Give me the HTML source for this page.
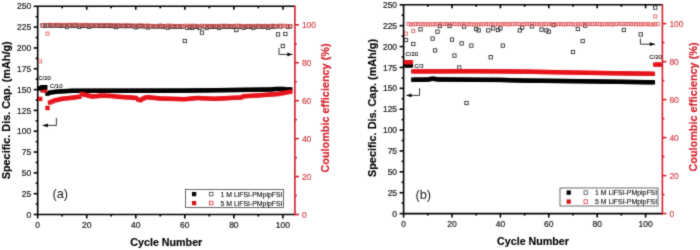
<!DOCTYPE html><html><head><meta charset="utf-8"><style>html,body{margin:0;padding:0;background:#fff;width:700px;height:250px;overflow:hidden}svg{display:block;will-change:transform}</style></head><body>
<svg width="700" height="250" viewBox="0 0 700 250">
<defs><filter id="sf" x="0" y="0" width="700" height="250" filterUnits="userSpaceOnUse" color-interpolation-filters="sRGB"><feConvolveMatrix order="3" kernelMatrix="1 2 1 2 16 2 1 2 1" edgeMode="duplicate"/></filter></defs><g filter="url(#sf)">
<rect width="700" height="250" fill="#fff"/>
<g stroke="#000" stroke-width="1.6" fill="none">
<path d="M37.7,6.3H294.9"/>
<path d="M37.7,6.3V214.5H294.9"/>
<path d="M33.7,214.5H37.7"/>
<path d="M35.7,204.09H37.7"/>
<path d="M33.7,193.68H37.7"/>
<path d="M35.7,183.27H37.7"/>
<path d="M33.7,172.86H37.7"/>
<path d="M35.7,162.45H37.7"/>
<path d="M33.7,152.04H37.7"/>
<path d="M35.7,141.63H37.7"/>
<path d="M33.7,131.22H37.7"/>
<path d="M35.7,120.81H37.7"/>
<path d="M33.7,110.4H37.7"/>
<path d="M35.7,99.99H37.7"/>
<path d="M33.7,89.58H37.7"/>
<path d="M35.7,79.17H37.7"/>
<path d="M33.7,68.76H37.7"/>
<path d="M35.7,58.35H37.7"/>
<path d="M33.7,47.94H37.7"/>
<path d="M35.7,37.53H37.7"/>
<path d="M33.7,27.12H37.7"/>
<path d="M35.7,16.71H37.7"/>
<path d="M33.7,6.3H37.7"/>
<path d="M37.7,214.5V218.5"/>
<path d="M62.22,214.5V216.5"/>
<path d="M62.22,6.3V8.3"/>
<path d="M86.74,214.5V218.5"/>
<path d="M86.74,6.3V9.8"/>
<path d="M111.26,214.5V216.5"/>
<path d="M111.26,6.3V8.3"/>
<path d="M135.78,214.5V218.5"/>
<path d="M135.78,6.3V9.8"/>
<path d="M160.3,214.5V216.5"/>
<path d="M160.3,6.3V8.3"/>
<path d="M184.82,214.5V218.5"/>
<path d="M184.82,6.3V9.8"/>
<path d="M209.34,214.5V216.5"/>
<path d="M209.34,6.3V8.3"/>
<path d="M233.86,214.5V218.5"/>
<path d="M233.86,6.3V9.8"/>
<path d="M258.38,214.5V216.5"/>
<path d="M258.38,6.3V8.3"/>
<path d="M282.9,214.5V218.5"/>
<path d="M282.9,6.3V9.8"/>
</g>
<g stroke="#d41e2a" stroke-width="1.6" fill="none">
<path d="M294.9,5.6V215.2"/>
<path d="M294.9,214.5H298.9"/>
<path d="M294.9,195.53H296.9"/>
<path d="M294.9,176.56H298.9"/>
<path d="M294.9,157.59H296.9"/>
<path d="M294.9,138.62H298.9"/>
<path d="M294.9,119.65H296.9"/>
<path d="M294.9,100.68H298.9"/>
<path d="M294.9,81.71H296.9"/>
<path d="M294.9,62.74H298.9"/>
<path d="M294.9,43.77H296.9"/>
<path d="M294.9,24.8H298.9"/>
</g>
<g font-family='"Liberation Sans", sans-serif' font-size="8.5" fill="#222" stroke="#222" stroke-width="0.22" text-anchor="end">
<text x="31.2" y="217.6">0</text>
<text x="31.2" y="196.78">25</text>
<text x="31.2" y="175.96">50</text>
<text x="31.2" y="155.14">75</text>
<text x="31.2" y="134.32">100</text>
<text x="31.2" y="113.5">125</text>
<text x="31.2" y="92.68">150</text>
<text x="31.2" y="71.86">175</text>
<text x="31.2" y="51.04">200</text>
<text x="31.2" y="30.22">225</text>
<text x="31.2" y="9.4">250</text>
</g>
<g font-family='"Liberation Sans", sans-serif' font-size="8.5" fill="#222" stroke="#222" stroke-width="0.22" text-anchor="middle">
<text x="37.7" y="228.2">0</text>
<text x="86.74" y="228.2">20</text>
<text x="135.78" y="228.2">40</text>
<text x="184.82" y="228.2">60</text>
<text x="233.86" y="228.2">80</text>
<text x="282.9" y="228.2">100</text>
</g>
<g font-family='"Liberation Sans", sans-serif' font-size="8.5" fill="#d23c46" stroke="#d23c46" stroke-width="0.15" text-anchor="start">
<text x="301.9" y="217.6">0</text>
<text x="301.9" y="179.66">20</text>
<text x="301.9" y="141.72">40</text>
<text x="301.9" y="103.78">60</text>
<text x="301.9" y="65.84">80</text>
<text x="301.9" y="27.9">100</text>
</g>
<text font-family='"Liberation Sans", sans-serif' font-weight="bold" font-size="10.85" fill="#000" stroke="#000" stroke-width="0.15" text-anchor="middle" transform="translate(10.2,110.3) rotate(-90)">Specific. Dis. Cap. (mAh/g)</text>
<text font-family='"Liberation Sans", sans-serif' font-weight="bold" font-size="10.87" fill="#d41e2a" stroke="#d41e2a" stroke-width="0.15" text-anchor="middle" transform="translate(328.7,108) rotate(-90)">Coulombic efficiency (%)</text>
<text font-family='"Liberation Sans", sans-serif' font-weight="bold" font-size="10.7" fill="#000" text-anchor="middle" x="166.3" y="246.2" stroke="#000" stroke-width="0.15">Cycle Number</text>
<text font-family='"Liberation Sans", sans-serif' font-size="12.8" fill="#222" x="52.4" y="198.1">(a)</text>
<rect x="40.93" y="23.77" width="3.35" height="3.35" fill="none" stroke="#2a2a2a" stroke-width="0.85"/>
<rect x="43.38" y="23.92" width="3.35" height="3.35" fill="none" stroke="#2a2a2a" stroke-width="0.85"/>
<rect x="45.83" y="23.76" width="3.35" height="3.35" fill="none" stroke="#2a2a2a" stroke-width="0.85"/>
<rect x="48.28" y="23.75" width="3.35" height="3.35" fill="none" stroke="#2a2a2a" stroke-width="0.85"/>
<rect x="50.74" y="23.88" width="3.35" height="3.35" fill="none" stroke="#2a2a2a" stroke-width="0.85"/>
<rect x="53.19" y="23.71" width="3.35" height="3.35" fill="none" stroke="#2a2a2a" stroke-width="0.85"/>
<rect x="55.64" y="23.75" width="3.35" height="3.35" fill="none" stroke="#2a2a2a" stroke-width="0.85"/>
<rect x="58.09" y="24.04" width="3.35" height="3.35" fill="none" stroke="#2a2a2a" stroke-width="0.85"/>
<rect x="60.54" y="23.88" width="3.35" height="3.35" fill="none" stroke="#2a2a2a" stroke-width="0.85"/>
<rect x="63" y="23.91" width="3.35" height="3.35" fill="none" stroke="#2a2a2a" stroke-width="0.85"/>
<rect x="67.9" y="23.73" width="3.35" height="3.35" fill="none" stroke="#2a2a2a" stroke-width="0.85"/>
<rect x="70.35" y="23.91" width="3.35" height="3.35" fill="none" stroke="#2a2a2a" stroke-width="0.85"/>
<rect x="72.81" y="23.99" width="3.35" height="3.35" fill="none" stroke="#2a2a2a" stroke-width="0.85"/>
<rect x="75.26" y="23.78" width="3.35" height="3.35" fill="none" stroke="#2a2a2a" stroke-width="0.85"/>
<rect x="80.16" y="24.06" width="3.35" height="3.35" fill="none" stroke="#2a2a2a" stroke-width="0.85"/>
<rect x="82.61" y="24.08" width="3.35" height="3.35" fill="none" stroke="#2a2a2a" stroke-width="0.85"/>
<rect x="85.07" y="23.87" width="3.35" height="3.35" fill="none" stroke="#2a2a2a" stroke-width="0.85"/>
<rect x="89.97" y="24.13" width="3.35" height="3.35" fill="none" stroke="#2a2a2a" stroke-width="0.85"/>
<rect x="92.42" y="24.09" width="3.35" height="3.35" fill="none" stroke="#2a2a2a" stroke-width="0.85"/>
<rect x="94.87" y="24.19" width="3.35" height="3.35" fill="none" stroke="#2a2a2a" stroke-width="0.85"/>
<rect x="97.33" y="24.08" width="3.35" height="3.35" fill="none" stroke="#2a2a2a" stroke-width="0.85"/>
<rect x="99.78" y="24.24" width="3.35" height="3.35" fill="none" stroke="#2a2a2a" stroke-width="0.85"/>
<rect x="102.23" y="24.27" width="3.35" height="3.35" fill="none" stroke="#2a2a2a" stroke-width="0.85"/>
<rect x="104.68" y="24" width="3.35" height="3.35" fill="none" stroke="#2a2a2a" stroke-width="0.85"/>
<rect x="107.13" y="24.03" width="3.35" height="3.35" fill="none" stroke="#2a2a2a" stroke-width="0.85"/>
<rect x="109.59" y="24.3" width="3.35" height="3.35" fill="none" stroke="#2a2a2a" stroke-width="0.85"/>
<rect x="112.04" y="24.44" width="3.35" height="3.35" fill="none" stroke="#2a2a2a" stroke-width="0.85"/>
<rect x="116.94" y="24.21" width="3.35" height="3.35" fill="none" stroke="#2a2a2a" stroke-width="0.85"/>
<rect x="119.39" y="24.31" width="3.35" height="3.35" fill="none" stroke="#2a2a2a" stroke-width="0.85"/>
<rect x="121.84" y="24.4" width="3.35" height="3.35" fill="none" stroke="#2a2a2a" stroke-width="0.85"/>
<rect x="124.3" y="24.31" width="3.35" height="3.35" fill="none" stroke="#2a2a2a" stroke-width="0.85"/>
<rect x="126.75" y="24.36" width="3.35" height="3.35" fill="none" stroke="#2a2a2a" stroke-width="0.85"/>
<rect x="129.2" y="24.36" width="3.35" height="3.35" fill="none" stroke="#2a2a2a" stroke-width="0.85"/>
<rect x="131.65" y="24.41" width="3.35" height="3.35" fill="none" stroke="#2a2a2a" stroke-width="0.85"/>
<rect x="136.56" y="24.56" width="3.35" height="3.35" fill="none" stroke="#2a2a2a" stroke-width="0.85"/>
<rect x="139.01" y="24.47" width="3.35" height="3.35" fill="none" stroke="#2a2a2a" stroke-width="0.85"/>
<rect x="141.46" y="24.52" width="3.35" height="3.35" fill="none" stroke="#2a2a2a" stroke-width="0.85"/>
<rect x="143.91" y="24.71" width="3.35" height="3.35" fill="none" stroke="#2a2a2a" stroke-width="0.85"/>
<rect x="148.82" y="24.46" width="3.35" height="3.35" fill="none" stroke="#2a2a2a" stroke-width="0.85"/>
<rect x="151.27" y="24.71" width="3.35" height="3.35" fill="none" stroke="#2a2a2a" stroke-width="0.85"/>
<rect x="153.72" y="24.8" width="3.35" height="3.35" fill="none" stroke="#2a2a2a" stroke-width="0.85"/>
<rect x="156.17" y="24.66" width="3.35" height="3.35" fill="none" stroke="#2a2a2a" stroke-width="0.85"/>
<rect x="158.63" y="24.65" width="3.35" height="3.35" fill="none" stroke="#2a2a2a" stroke-width="0.85"/>
<rect x="161.08" y="24.91" width="3.35" height="3.35" fill="none" stroke="#2a2a2a" stroke-width="0.85"/>
<rect x="163.53" y="24.71" width="3.35" height="3.35" fill="none" stroke="#2a2a2a" stroke-width="0.85"/>
<rect x="168.43" y="24.74" width="3.35" height="3.35" fill="none" stroke="#2a2a2a" stroke-width="0.85"/>
<rect x="170.89" y="24.87" width="3.35" height="3.35" fill="none" stroke="#2a2a2a" stroke-width="0.85"/>
<rect x="173.34" y="25" width="3.35" height="3.35" fill="none" stroke="#2a2a2a" stroke-width="0.85"/>
<rect x="175.79" y="24.79" width="3.35" height="3.35" fill="none" stroke="#2a2a2a" stroke-width="0.85"/>
<rect x="178.24" y="24.9" width="3.35" height="3.35" fill="none" stroke="#2a2a2a" stroke-width="0.85"/>
<rect x="180.69" y="24.93" width="3.35" height="3.35" fill="none" stroke="#2a2a2a" stroke-width="0.85"/>
<rect x="188.05" y="25.15" width="3.35" height="3.35" fill="none" stroke="#2a2a2a" stroke-width="0.85"/>
<rect x="192.95" y="24.98" width="3.35" height="3.35" fill="none" stroke="#2a2a2a" stroke-width="0.85"/>
<rect x="195.41" y="25.14" width="3.35" height="3.35" fill="none" stroke="#2a2a2a" stroke-width="0.85"/>
<rect x="202.76" y="24.86" width="3.35" height="3.35" fill="none" stroke="#2a2a2a" stroke-width="0.85"/>
<rect x="207.66" y="24.91" width="3.35" height="3.35" fill="none" stroke="#2a2a2a" stroke-width="0.85"/>
<rect x="210.12" y="25.03" width="3.35" height="3.35" fill="none" stroke="#2a2a2a" stroke-width="0.85"/>
<rect x="212.57" y="25.12" width="3.35" height="3.35" fill="none" stroke="#2a2a2a" stroke-width="0.85"/>
<rect x="215.02" y="24.94" width="3.35" height="3.35" fill="none" stroke="#2a2a2a" stroke-width="0.85"/>
<rect x="219.93" y="24.85" width="3.35" height="3.35" fill="none" stroke="#2a2a2a" stroke-width="0.85"/>
<rect x="222.38" y="24.8" width="3.35" height="3.35" fill="none" stroke="#2a2a2a" stroke-width="0.85"/>
<rect x="224.83" y="24.96" width="3.35" height="3.35" fill="none" stroke="#2a2a2a" stroke-width="0.85"/>
<rect x="227.28" y="24.82" width="3.35" height="3.35" fill="none" stroke="#2a2a2a" stroke-width="0.85"/>
<rect x="229.73" y="25.06" width="3.35" height="3.35" fill="none" stroke="#2a2a2a" stroke-width="0.85"/>
<rect x="232.19" y="25.07" width="3.35" height="3.35" fill="none" stroke="#2a2a2a" stroke-width="0.85"/>
<rect x="237.09" y="24.8" width="3.35" height="3.35" fill="none" stroke="#2a2a2a" stroke-width="0.85"/>
<rect x="239.54" y="24.83" width="3.35" height="3.35" fill="none" stroke="#2a2a2a" stroke-width="0.85"/>
<rect x="244.45" y="25.03" width="3.35" height="3.35" fill="none" stroke="#2a2a2a" stroke-width="0.85"/>
<rect x="246.9" y="24.96" width="3.35" height="3.35" fill="none" stroke="#2a2a2a" stroke-width="0.85"/>
<rect x="249.35" y="25.02" width="3.35" height="3.35" fill="none" stroke="#2a2a2a" stroke-width="0.85"/>
<rect x="254.25" y="24.83" width="3.35" height="3.35" fill="none" stroke="#2a2a2a" stroke-width="0.85"/>
<rect x="256.7" y="24.74" width="3.35" height="3.35" fill="none" stroke="#2a2a2a" stroke-width="0.85"/>
<rect x="259.16" y="24.8" width="3.35" height="3.35" fill="none" stroke="#2a2a2a" stroke-width="0.85"/>
<rect x="261.61" y="24.99" width="3.35" height="3.35" fill="none" stroke="#2a2a2a" stroke-width="0.85"/>
<rect x="264.06" y="24.78" width="3.35" height="3.35" fill="none" stroke="#2a2a2a" stroke-width="0.85"/>
<rect x="268.96" y="24.8" width="3.35" height="3.35" fill="none" stroke="#2a2a2a" stroke-width="0.85"/>
<rect x="271.42" y="24.82" width="3.35" height="3.35" fill="none" stroke="#2a2a2a" stroke-width="0.85"/>
<rect x="273.87" y="24.82" width="3.35" height="3.35" fill="none" stroke="#2a2a2a" stroke-width="0.85"/>
<rect x="278.77" y="24.81" width="3.35" height="3.35" fill="none" stroke="#2a2a2a" stroke-width="0.85"/>
<rect x="286.13" y="25" width="3.35" height="3.35" fill="none" stroke="#2a2a2a" stroke-width="0.85"/>
<rect x="288.58" y="24.69" width="3.35" height="3.35" fill="none" stroke="#2a2a2a" stroke-width="0.85"/>
<rect x="165.98" y="25.94" width="3.35" height="3.35" fill="none" stroke="#2a2a2a" stroke-width="0.85"/>
<rect x="183.15" y="39.32" width="3.35" height="3.35" fill="none" stroke="#2a2a2a" stroke-width="0.85"/>
<rect x="200.31" y="30.93" width="3.35" height="3.35" fill="none" stroke="#2a2a2a" stroke-width="0.85"/>
<rect x="234.64" y="28.32" width="3.35" height="3.35" fill="none" stroke="#2a2a2a" stroke-width="0.85"/>
<rect x="251.8" y="25.99" width="3.35" height="3.35" fill="none" stroke="#2a2a2a" stroke-width="0.85"/>
<rect x="276.32" y="32.72" width="3.35" height="3.35" fill="none" stroke="#2a2a2a" stroke-width="0.85"/>
<rect x="283.68" y="32.32" width="3.35" height="3.35" fill="none" stroke="#2a2a2a" stroke-width="0.85"/>
<rect x="281.22" y="44.32" width="3.35" height="3.35" fill="none" stroke="#2a2a2a" stroke-width="0.85"/>
<rect x="65.45" y="25" width="3.35" height="3.35" fill="none" stroke="#2a2a2a" stroke-width="0.85"/>
<rect x="77.71" y="25.09" width="3.35" height="3.35" fill="none" stroke="#2a2a2a" stroke-width="0.85"/>
<rect x="87.52" y="25.16" width="3.35" height="3.35" fill="none" stroke="#2a2a2a" stroke-width="0.85"/>
<rect x="114.49" y="25.38" width="3.35" height="3.35" fill="none" stroke="#2a2a2a" stroke-width="0.85"/>
<rect x="134.11" y="25.59" width="3.35" height="3.35" fill="none" stroke="#2a2a2a" stroke-width="0.85"/>
<rect x="146.37" y="25.73" width="3.35" height="3.35" fill="none" stroke="#2a2a2a" stroke-width="0.85"/>
<rect x="185.6" y="26.12" width="3.35" height="3.35" fill="none" stroke="#2a2a2a" stroke-width="0.85"/>
<rect x="190.5" y="26.11" width="3.35" height="3.35" fill="none" stroke="#2a2a2a" stroke-width="0.85"/>
<rect x="197.86" y="26.1" width="3.35" height="3.35" fill="none" stroke="#2a2a2a" stroke-width="0.85"/>
<rect x="205.21" y="26.08" width="3.35" height="3.35" fill="none" stroke="#2a2a2a" stroke-width="0.85"/>
<rect x="217.47" y="26.06" width="3.35" height="3.35" fill="none" stroke="#2a2a2a" stroke-width="0.85"/>
<rect x="241.99" y="26.01" width="3.35" height="3.35" fill="none" stroke="#2a2a2a" stroke-width="0.85"/>
<rect x="266.51" y="25.97" width="3.35" height="3.35" fill="none" stroke="#2a2a2a" stroke-width="0.85"/>
<rect x="38.63" y="59.88" width="3.05" height="3.05" fill="none" stroke="#dc4a4a" stroke-width="0.75"/>
<rect x="41.08" y="23.44" width="3.05" height="3.05" fill="none" stroke="#dc4a4a" stroke-width="0.75"/>
<rect x="43.53" y="23.42" width="3.05" height="3.05" fill="none" stroke="#dc4a4a" stroke-width="0.75"/>
<rect x="45.98" y="32.08" width="3.05" height="3.05" fill="none" stroke="#dc4a4a" stroke-width="0.75"/>
<rect x="48.44" y="23.19" width="3.05" height="3.05" fill="none" stroke="#dc4a4a" stroke-width="0.75"/>
<rect x="50.89" y="23.52" width="3.05" height="3.05" fill="none" stroke="#dc4a4a" stroke-width="0.75"/>
<rect x="53.34" y="23.52" width="3.05" height="3.05" fill="none" stroke="#dc4a4a" stroke-width="0.75"/>
<rect x="55.79" y="23.12" width="3.05" height="3.05" fill="none" stroke="#dc4a4a" stroke-width="0.75"/>
<rect x="58.24" y="23.45" width="3.05" height="3.05" fill="none" stroke="#dc4a4a" stroke-width="0.75"/>
<rect x="60.7" y="23.52" width="3.05" height="3.05" fill="none" stroke="#dc4a4a" stroke-width="0.75"/>
<rect x="63.15" y="23.43" width="3.05" height="3.05" fill="none" stroke="#dc4a4a" stroke-width="0.75"/>
<rect x="65.6" y="23.36" width="3.05" height="3.05" fill="none" stroke="#dc4a4a" stroke-width="0.75"/>
<rect x="68.05" y="23.24" width="3.05" height="3.05" fill="none" stroke="#dc4a4a" stroke-width="0.75"/>
<rect x="70.5" y="23.29" width="3.05" height="3.05" fill="none" stroke="#dc4a4a" stroke-width="0.75"/>
<rect x="72.95" y="23.24" width="3.05" height="3.05" fill="none" stroke="#dc4a4a" stroke-width="0.75"/>
<rect x="75.41" y="23.17" width="3.05" height="3.05" fill="none" stroke="#dc4a4a" stroke-width="0.75"/>
<rect x="77.86" y="23.5" width="3.05" height="3.05" fill="none" stroke="#dc4a4a" stroke-width="0.75"/>
<rect x="80.31" y="23.33" width="3.05" height="3.05" fill="none" stroke="#dc4a4a" stroke-width="0.75"/>
<rect x="82.76" y="23.66" width="3.05" height="3.05" fill="none" stroke="#dc4a4a" stroke-width="0.75"/>
<rect x="85.22" y="23.22" width="3.05" height="3.05" fill="none" stroke="#dc4a4a" stroke-width="0.75"/>
<rect x="87.67" y="23.76" width="3.05" height="3.05" fill="none" stroke="#dc4a4a" stroke-width="0.75"/>
<rect x="90.12" y="23.65" width="3.05" height="3.05" fill="none" stroke="#dc4a4a" stroke-width="0.75"/>
<rect x="92.57" y="23.8" width="3.05" height="3.05" fill="none" stroke="#dc4a4a" stroke-width="0.75"/>
<rect x="95.02" y="23.81" width="3.05" height="3.05" fill="none" stroke="#dc4a4a" stroke-width="0.75"/>
<rect x="97.47" y="23.83" width="3.05" height="3.05" fill="none" stroke="#dc4a4a" stroke-width="0.75"/>
<rect x="99.93" y="23.65" width="3.05" height="3.05" fill="none" stroke="#dc4a4a" stroke-width="0.75"/>
<rect x="102.38" y="23.33" width="3.05" height="3.05" fill="none" stroke="#dc4a4a" stroke-width="0.75"/>
<rect x="104.83" y="23.79" width="3.05" height="3.05" fill="none" stroke="#dc4a4a" stroke-width="0.75"/>
<rect x="107.28" y="23.46" width="3.05" height="3.05" fill="none" stroke="#dc4a4a" stroke-width="0.75"/>
<rect x="109.73" y="23.55" width="3.05" height="3.05" fill="none" stroke="#dc4a4a" stroke-width="0.75"/>
<rect x="112.19" y="23.8" width="3.05" height="3.05" fill="none" stroke="#dc4a4a" stroke-width="0.75"/>
<rect x="114.64" y="23.74" width="3.05" height="3.05" fill="none" stroke="#dc4a4a" stroke-width="0.75"/>
<rect x="117.09" y="23.7" width="3.05" height="3.05" fill="none" stroke="#dc4a4a" stroke-width="0.75"/>
<rect x="119.54" y="24.05" width="3.05" height="3.05" fill="none" stroke="#dc4a4a" stroke-width="0.75"/>
<rect x="121.99" y="23.88" width="3.05" height="3.05" fill="none" stroke="#dc4a4a" stroke-width="0.75"/>
<rect x="124.45" y="23.74" width="3.05" height="3.05" fill="none" stroke="#dc4a4a" stroke-width="0.75"/>
<rect x="126.9" y="23.71" width="3.05" height="3.05" fill="none" stroke="#dc4a4a" stroke-width="0.75"/>
<rect x="129.35" y="24.11" width="3.05" height="3.05" fill="none" stroke="#dc4a4a" stroke-width="0.75"/>
<rect x="131.8" y="23.9" width="3.05" height="3.05" fill="none" stroke="#dc4a4a" stroke-width="0.75"/>
<rect x="134.25" y="24.11" width="3.05" height="3.05" fill="none" stroke="#dc4a4a" stroke-width="0.75"/>
<rect x="136.71" y="23.88" width="3.05" height="3.05" fill="none" stroke="#dc4a4a" stroke-width="0.75"/>
<rect x="139.16" y="23.81" width="3.05" height="3.05" fill="none" stroke="#dc4a4a" stroke-width="0.75"/>
<rect x="141.61" y="24.04" width="3.05" height="3.05" fill="none" stroke="#dc4a4a" stroke-width="0.75"/>
<rect x="144.06" y="24.24" width="3.05" height="3.05" fill="none" stroke="#dc4a4a" stroke-width="0.75"/>
<rect x="146.52" y="23.88" width="3.05" height="3.05" fill="none" stroke="#dc4a4a" stroke-width="0.75"/>
<rect x="148.97" y="24.28" width="3.05" height="3.05" fill="none" stroke="#dc4a4a" stroke-width="0.75"/>
<rect x="151.42" y="24.38" width="3.05" height="3.05" fill="none" stroke="#dc4a4a" stroke-width="0.75"/>
<rect x="153.87" y="24.34" width="3.05" height="3.05" fill="none" stroke="#dc4a4a" stroke-width="0.75"/>
<rect x="156.32" y="24.38" width="3.05" height="3.05" fill="none" stroke="#dc4a4a" stroke-width="0.75"/>
<rect x="158.78" y="23.91" width="3.05" height="3.05" fill="none" stroke="#dc4a4a" stroke-width="0.75"/>
<rect x="161.23" y="24.31" width="3.05" height="3.05" fill="none" stroke="#dc4a4a" stroke-width="0.75"/>
<rect x="163.68" y="24.48" width="3.05" height="3.05" fill="none" stroke="#dc4a4a" stroke-width="0.75"/>
<rect x="166.13" y="24.02" width="3.05" height="3.05" fill="none" stroke="#dc4a4a" stroke-width="0.75"/>
<rect x="168.58" y="24.18" width="3.05" height="3.05" fill="none" stroke="#dc4a4a" stroke-width="0.75"/>
<rect x="171.03" y="24.2" width="3.05" height="3.05" fill="none" stroke="#dc4a4a" stroke-width="0.75"/>
<rect x="173.49" y="24.38" width="3.05" height="3.05" fill="none" stroke="#dc4a4a" stroke-width="0.75"/>
<rect x="175.94" y="24.35" width="3.05" height="3.05" fill="none" stroke="#dc4a4a" stroke-width="0.75"/>
<rect x="178.39" y="24.41" width="3.05" height="3.05" fill="none" stroke="#dc4a4a" stroke-width="0.75"/>
<rect x="180.84" y="24.61" width="3.05" height="3.05" fill="none" stroke="#dc4a4a" stroke-width="0.75"/>
<rect x="183.29" y="24.18" width="3.05" height="3.05" fill="none" stroke="#dc4a4a" stroke-width="0.75"/>
<rect x="185.75" y="24.2" width="3.05" height="3.05" fill="none" stroke="#dc4a4a" stroke-width="0.75"/>
<rect x="188.2" y="24.24" width="3.05" height="3.05" fill="none" stroke="#dc4a4a" stroke-width="0.75"/>
<rect x="190.65" y="24.24" width="3.05" height="3.05" fill="none" stroke="#dc4a4a" stroke-width="0.75"/>
<rect x="193.1" y="24.2" width="3.05" height="3.05" fill="none" stroke="#dc4a4a" stroke-width="0.75"/>
<rect x="195.55" y="24.74" width="3.05" height="3.05" fill="none" stroke="#dc4a4a" stroke-width="0.75"/>
<rect x="198.01" y="24.66" width="3.05" height="3.05" fill="none" stroke="#dc4a4a" stroke-width="0.75"/>
<rect x="200.46" y="24.19" width="3.05" height="3.05" fill="none" stroke="#dc4a4a" stroke-width="0.75"/>
<rect x="202.91" y="24.44" width="3.05" height="3.05" fill="none" stroke="#dc4a4a" stroke-width="0.75"/>
<rect x="205.36" y="24.32" width="3.05" height="3.05" fill="none" stroke="#dc4a4a" stroke-width="0.75"/>
<rect x="207.81" y="24.32" width="3.05" height="3.05" fill="none" stroke="#dc4a4a" stroke-width="0.75"/>
<rect x="210.27" y="24.33" width="3.05" height="3.05" fill="none" stroke="#dc4a4a" stroke-width="0.75"/>
<rect x="212.72" y="24.51" width="3.05" height="3.05" fill="none" stroke="#dc4a4a" stroke-width="0.75"/>
<rect x="215.17" y="24.47" width="3.05" height="3.05" fill="none" stroke="#dc4a4a" stroke-width="0.75"/>
<rect x="217.62" y="24.33" width="3.05" height="3.05" fill="none" stroke="#dc4a4a" stroke-width="0.75"/>
<rect x="220.08" y="24.22" width="3.05" height="3.05" fill="none" stroke="#dc4a4a" stroke-width="0.75"/>
<rect x="222.53" y="24.3" width="3.05" height="3.05" fill="none" stroke="#dc4a4a" stroke-width="0.75"/>
<rect x="224.98" y="24.17" width="3.05" height="3.05" fill="none" stroke="#dc4a4a" stroke-width="0.75"/>
<rect x="227.43" y="24.42" width="3.05" height="3.05" fill="none" stroke="#dc4a4a" stroke-width="0.75"/>
<rect x="229.88" y="24.52" width="3.05" height="3.05" fill="none" stroke="#dc4a4a" stroke-width="0.75"/>
<rect x="232.34" y="24.31" width="3.05" height="3.05" fill="none" stroke="#dc4a4a" stroke-width="0.75"/>
<rect x="234.79" y="24.13" width="3.05" height="3.05" fill="none" stroke="#dc4a4a" stroke-width="0.75"/>
<rect x="237.24" y="24.18" width="3.05" height="3.05" fill="none" stroke="#dc4a4a" stroke-width="0.75"/>
<rect x="239.69" y="24.29" width="3.05" height="3.05" fill="none" stroke="#dc4a4a" stroke-width="0.75"/>
<rect x="242.14" y="24.43" width="3.05" height="3.05" fill="none" stroke="#dc4a4a" stroke-width="0.75"/>
<rect x="244.59" y="24.53" width="3.05" height="3.05" fill="none" stroke="#dc4a4a" stroke-width="0.75"/>
<rect x="247.05" y="24.28" width="3.05" height="3.05" fill="none" stroke="#dc4a4a" stroke-width="0.75"/>
<rect x="249.5" y="24.53" width="3.05" height="3.05" fill="none" stroke="#dc4a4a" stroke-width="0.75"/>
<rect x="251.95" y="24.42" width="3.05" height="3.05" fill="none" stroke="#dc4a4a" stroke-width="0.75"/>
<rect x="254.4" y="24.3" width="3.05" height="3.05" fill="none" stroke="#dc4a4a" stroke-width="0.75"/>
<rect x="256.86" y="24.26" width="3.05" height="3.05" fill="none" stroke="#dc4a4a" stroke-width="0.75"/>
<rect x="259.31" y="24.33" width="3.05" height="3.05" fill="none" stroke="#dc4a4a" stroke-width="0.75"/>
<rect x="261.76" y="24.45" width="3.05" height="3.05" fill="none" stroke="#dc4a4a" stroke-width="0.75"/>
<rect x="264.21" y="24.27" width="3.05" height="3.05" fill="none" stroke="#dc4a4a" stroke-width="0.75"/>
<rect x="266.66" y="24.43" width="3.05" height="3.05" fill="none" stroke="#dc4a4a" stroke-width="0.75"/>
<rect x="269.12" y="24.29" width="3.05" height="3.05" fill="none" stroke="#dc4a4a" stroke-width="0.75"/>
<rect x="271.57" y="24.15" width="3.05" height="3.05" fill="none" stroke="#dc4a4a" stroke-width="0.75"/>
<rect x="274.02" y="24.32" width="3.05" height="3.05" fill="none" stroke="#dc4a4a" stroke-width="0.75"/>
<rect x="276.47" y="24.42" width="3.05" height="3.05" fill="none" stroke="#dc4a4a" stroke-width="0.75"/>
<rect x="278.92" y="24.04" width="3.05" height="3.05" fill="none" stroke="#dc4a4a" stroke-width="0.75"/>
<rect x="281.38" y="24.24" width="3.05" height="3.05" fill="none" stroke="#dc4a4a" stroke-width="0.75"/>
<rect x="283.83" y="24.24" width="3.05" height="3.05" fill="none" stroke="#dc4a4a" stroke-width="0.75"/>
<rect x="286.28" y="24.51" width="3.05" height="3.05" fill="none" stroke="#dc4a4a" stroke-width="0.75"/>
<rect x="288.73" y="24.54" width="3.05" height="3.05" fill="none" stroke="#dc4a4a" stroke-width="0.75"/>
<rect x="37.95" y="86" width="4.4" height="4.4" fill="#000"/>
<rect x="40.4" y="85" width="4.4" height="4.4" fill="#000"/>
<rect x="42.86" y="85" width="4.4" height="4.4" fill="#000"/>
<rect x="45.31" y="91.4" width="4.4" height="4.4" fill="#000"/>
<rect x="47.76" y="90.4" width="4.4" height="4.4" fill="#000"/>
<rect x="50.21" y="90" width="4.4" height="4.4" fill="#000"/>
<rect x="52.66" y="89.7" width="4.4" height="4.4" fill="#000"/>
<rect x="55.12" y="89.4" width="4.4" height="4.4" fill="#000"/>
<rect x="57.57" y="89.25" width="4.4" height="4.4" fill="#000"/>
<rect x="60.02" y="89.1" width="4.4" height="4.4" fill="#000"/>
<rect x="62.47" y="88.97" width="4.4" height="4.4" fill="#000"/>
<rect x="64.92" y="88.85" width="4.4" height="4.4" fill="#000"/>
<rect x="67.38" y="88.72" width="4.4" height="4.4" fill="#000"/>
<rect x="69.83" y="88.6" width="4.4" height="4.4" fill="#000"/>
<rect x="72.28" y="88.59" width="4.4" height="4.4" fill="#000"/>
<rect x="74.73" y="88.58" width="4.4" height="4.4" fill="#000"/>
<rect x="77.18" y="88.58" width="4.4" height="4.4" fill="#000"/>
<rect x="79.64" y="88.57" width="4.4" height="4.4" fill="#000"/>
<rect x="82.09" y="88.56" width="4.4" height="4.4" fill="#000"/>
<rect x="84.54" y="88.55" width="4.4" height="4.4" fill="#000"/>
<rect x="86.99" y="88.55" width="4.4" height="4.4" fill="#000"/>
<rect x="89.44" y="88.55" width="4.4" height="4.4" fill="#000"/>
<rect x="91.9" y="88.54" width="4.4" height="4.4" fill="#000"/>
<rect x="94.35" y="88.54" width="4.4" height="4.4" fill="#000"/>
<rect x="96.8" y="88.54" width="4.4" height="4.4" fill="#000"/>
<rect x="99.25" y="88.53" width="4.4" height="4.4" fill="#000"/>
<rect x="101.7" y="88.53" width="4.4" height="4.4" fill="#000"/>
<rect x="104.16" y="88.53" width="4.4" height="4.4" fill="#000"/>
<rect x="106.61" y="88.53" width="4.4" height="4.4" fill="#000"/>
<rect x="109.06" y="88.52" width="4.4" height="4.4" fill="#000"/>
<rect x="111.51" y="88.52" width="4.4" height="4.4" fill="#000"/>
<rect x="113.96" y="88.52" width="4.4" height="4.4" fill="#000"/>
<rect x="116.42" y="88.52" width="4.4" height="4.4" fill="#000"/>
<rect x="118.87" y="88.52" width="4.4" height="4.4" fill="#000"/>
<rect x="121.32" y="88.51" width="4.4" height="4.4" fill="#000"/>
<rect x="123.77" y="88.51" width="4.4" height="4.4" fill="#000"/>
<rect x="126.22" y="88.51" width="4.4" height="4.4" fill="#000"/>
<rect x="128.68" y="88.5" width="4.4" height="4.4" fill="#000"/>
<rect x="131.13" y="88.5" width="4.4" height="4.4" fill="#000"/>
<rect x="133.58" y="88.5" width="4.4" height="4.4" fill="#000"/>
<rect x="136.03" y="88.5" width="4.4" height="4.4" fill="#000"/>
<rect x="138.48" y="88.49" width="4.4" height="4.4" fill="#000"/>
<rect x="140.94" y="88.48" width="4.4" height="4.4" fill="#000"/>
<rect x="143.39" y="88.48" width="4.4" height="4.4" fill="#000"/>
<rect x="145.84" y="88.47" width="4.4" height="4.4" fill="#000"/>
<rect x="148.29" y="88.47" width="4.4" height="4.4" fill="#000"/>
<rect x="150.74" y="88.47" width="4.4" height="4.4" fill="#000"/>
<rect x="153.2" y="88.46" width="4.4" height="4.4" fill="#000"/>
<rect x="155.65" y="88.45" width="4.4" height="4.4" fill="#000"/>
<rect x="158.1" y="88.45" width="4.4" height="4.4" fill="#000"/>
<rect x="160.55" y="88.44" width="4.4" height="4.4" fill="#000"/>
<rect x="163" y="88.44" width="4.4" height="4.4" fill="#000"/>
<rect x="165.46" y="88.43" width="4.4" height="4.4" fill="#000"/>
<rect x="167.91" y="88.43" width="4.4" height="4.4" fill="#000"/>
<rect x="170.36" y="88.42" width="4.4" height="4.4" fill="#000"/>
<rect x="172.81" y="88.42" width="4.4" height="4.4" fill="#000"/>
<rect x="175.26" y="88.41" width="4.4" height="4.4" fill="#000"/>
<rect x="177.72" y="88.41" width="4.4" height="4.4" fill="#000"/>
<rect x="180.17" y="88.4" width="4.4" height="4.4" fill="#000"/>
<rect x="182.62" y="88.4" width="4.4" height="4.4" fill="#000"/>
<rect x="185.07" y="88.37" width="4.4" height="4.4" fill="#000"/>
<rect x="187.52" y="88.34" width="4.4" height="4.4" fill="#000"/>
<rect x="189.98" y="88.31" width="4.4" height="4.4" fill="#000"/>
<rect x="192.43" y="88.28" width="4.4" height="4.4" fill="#000"/>
<rect x="194.88" y="88.25" width="4.4" height="4.4" fill="#000"/>
<rect x="197.33" y="88.22" width="4.4" height="4.4" fill="#000"/>
<rect x="199.78" y="88.19" width="4.4" height="4.4" fill="#000"/>
<rect x="202.24" y="88.16" width="4.4" height="4.4" fill="#000"/>
<rect x="204.69" y="88.13" width="4.4" height="4.4" fill="#000"/>
<rect x="207.14" y="88.1" width="4.4" height="4.4" fill="#000"/>
<rect x="209.59" y="88.07" width="4.4" height="4.4" fill="#000"/>
<rect x="212.04" y="88.04" width="4.4" height="4.4" fill="#000"/>
<rect x="214.5" y="88.01" width="4.4" height="4.4" fill="#000"/>
<rect x="216.95" y="87.98" width="4.4" height="4.4" fill="#000"/>
<rect x="219.4" y="87.95" width="4.4" height="4.4" fill="#000"/>
<rect x="221.85" y="87.92" width="4.4" height="4.4" fill="#000"/>
<rect x="224.3" y="87.89" width="4.4" height="4.4" fill="#000"/>
<rect x="226.76" y="87.86" width="4.4" height="4.4" fill="#000"/>
<rect x="229.21" y="87.83" width="4.4" height="4.4" fill="#000"/>
<rect x="231.66" y="87.8" width="4.4" height="4.4" fill="#000"/>
<rect x="234.11" y="87.77" width="4.4" height="4.4" fill="#000"/>
<rect x="236.56" y="87.73" width="4.4" height="4.4" fill="#000"/>
<rect x="239.02" y="87.7" width="4.4" height="4.4" fill="#000"/>
<rect x="241.47" y="87.67" width="4.4" height="4.4" fill="#000"/>
<rect x="243.92" y="87.63" width="4.4" height="4.4" fill="#000"/>
<rect x="246.37" y="87.6" width="4.4" height="4.4" fill="#000"/>
<rect x="248.82" y="87.57" width="4.4" height="4.4" fill="#000"/>
<rect x="251.28" y="87.53" width="4.4" height="4.4" fill="#000"/>
<rect x="253.73" y="87.5" width="4.4" height="4.4" fill="#000"/>
<rect x="256.18" y="87.47" width="4.4" height="4.4" fill="#000"/>
<rect x="258.63" y="87.43" width="4.4" height="4.4" fill="#000"/>
<rect x="261.08" y="87.4" width="4.4" height="4.4" fill="#000"/>
<rect x="263.54" y="87.37" width="4.4" height="4.4" fill="#000"/>
<rect x="265.99" y="87.33" width="4.4" height="4.4" fill="#000"/>
<rect x="268.44" y="87.3" width="4.4" height="4.4" fill="#000"/>
<rect x="270.89" y="87.05" width="4.4" height="4.4" fill="#000"/>
<rect x="273.34" y="86.8" width="4.4" height="4.4" fill="#000"/>
<rect x="275.8" y="86.8" width="4.4" height="4.4" fill="#000"/>
<rect x="278.25" y="86.8" width="4.4" height="4.4" fill="#000"/>
<rect x="280.7" y="86.8" width="4.4" height="4.4" fill="#000"/>
<rect x="283.15" y="87.2" width="4.4" height="4.4" fill="#000"/>
<rect x="285.6" y="87.2" width="4.4" height="4.4" fill="#000"/>
<rect x="288.06" y="87.2" width="4.4" height="4.4" fill="#000"/>
<rect x="37.95" y="96.7" width="4.4" height="4.4" fill="#e8141c"/>
<rect x="45.31" y="105.8" width="4.4" height="4.4" fill="#e8141c"/>
<rect x="47.76" y="100.3" width="4.4" height="4.4" fill="#e8141c"/>
<rect x="50.21" y="99.25" width="4.4" height="4.4" fill="#e8141c"/>
<rect x="52.66" y="98.2" width="4.4" height="4.4" fill="#e8141c"/>
<rect x="55.12" y="97.67" width="4.4" height="4.4" fill="#e8141c"/>
<rect x="57.57" y="97.13" width="4.4" height="4.4" fill="#e8141c"/>
<rect x="60.02" y="96.6" width="4.4" height="4.4" fill="#e8141c"/>
<rect x="62.47" y="96.34" width="4.4" height="4.4" fill="#e8141c"/>
<rect x="64.92" y="96.08" width="4.4" height="4.4" fill="#e8141c"/>
<rect x="67.38" y="95.81" width="4.4" height="4.4" fill="#e8141c"/>
<rect x="69.83" y="95.55" width="4.4" height="4.4" fill="#e8141c"/>
<rect x="72.28" y="95.22" width="4.4" height="4.4" fill="#e8141c"/>
<rect x="74.73" y="94.88" width="4.4" height="4.4" fill="#e8141c"/>
<rect x="77.18" y="94.55" width="4.4" height="4.4" fill="#e8141c"/>
<rect x="79.64" y="91.8" width="4.4" height="4.4" fill="#e8141c"/>
<rect x="82.09" y="92.4" width="4.4" height="4.4" fill="#e8141c"/>
<rect x="84.54" y="93" width="4.4" height="4.4" fill="#e8141c"/>
<rect x="86.99" y="93.65" width="4.4" height="4.4" fill="#e8141c"/>
<rect x="89.44" y="94.3" width="4.4" height="4.4" fill="#e8141c"/>
<rect x="91.9" y="94.15" width="4.4" height="4.4" fill="#e8141c"/>
<rect x="94.35" y="94" width="4.4" height="4.4" fill="#e8141c"/>
<rect x="96.8" y="93.7" width="4.4" height="4.4" fill="#e8141c"/>
<rect x="99.25" y="93.4" width="4.4" height="4.4" fill="#e8141c"/>
<rect x="101.7" y="93.5" width="4.4" height="4.4" fill="#e8141c"/>
<rect x="104.16" y="93.6" width="4.4" height="4.4" fill="#e8141c"/>
<rect x="106.61" y="93.7" width="4.4" height="4.4" fill="#e8141c"/>
<rect x="109.06" y="93.8" width="4.4" height="4.4" fill="#e8141c"/>
<rect x="111.51" y="94.05" width="4.4" height="4.4" fill="#e8141c"/>
<rect x="113.96" y="94.3" width="4.4" height="4.4" fill="#e8141c"/>
<rect x="116.42" y="94.55" width="4.4" height="4.4" fill="#e8141c"/>
<rect x="118.87" y="94.8" width="4.4" height="4.4" fill="#e8141c"/>
<rect x="121.32" y="94.92" width="4.4" height="4.4" fill="#e8141c"/>
<rect x="123.77" y="95.05" width="4.4" height="4.4" fill="#e8141c"/>
<rect x="126.22" y="95.17" width="4.4" height="4.4" fill="#e8141c"/>
<rect x="128.68" y="95.3" width="4.4" height="4.4" fill="#e8141c"/>
<rect x="131.13" y="95.55" width="4.4" height="4.4" fill="#e8141c"/>
<rect x="133.58" y="95.8" width="4.4" height="4.4" fill="#e8141c"/>
<rect x="136.03" y="97.3" width="4.4" height="4.4" fill="#e8141c"/>
<rect x="138.48" y="98" width="4.4" height="4.4" fill="#e8141c"/>
<rect x="140.94" y="96.4" width="4.4" height="4.4" fill="#e8141c"/>
<rect x="143.39" y="95.33" width="4.4" height="4.4" fill="#e8141c"/>
<rect x="145.84" y="94.97" width="4.4" height="4.4" fill="#e8141c"/>
<rect x="148.29" y="95.3" width="4.4" height="4.4" fill="#e8141c"/>
<rect x="150.74" y="95.55" width="4.4" height="4.4" fill="#e8141c"/>
<rect x="153.2" y="95.8" width="4.4" height="4.4" fill="#e8141c"/>
<rect x="155.65" y="96.05" width="4.4" height="4.4" fill="#e8141c"/>
<rect x="158.1" y="96.3" width="4.4" height="4.4" fill="#e8141c"/>
<rect x="160.55" y="96.38" width="4.4" height="4.4" fill="#e8141c"/>
<rect x="163" y="96.45" width="4.4" height="4.4" fill="#e8141c"/>
<rect x="165.46" y="96.52" width="4.4" height="4.4" fill="#e8141c"/>
<rect x="167.91" y="96.6" width="4.4" height="4.4" fill="#e8141c"/>
<rect x="170.36" y="96.67" width="4.4" height="4.4" fill="#e8141c"/>
<rect x="172.81" y="96.73" width="4.4" height="4.4" fill="#e8141c"/>
<rect x="175.26" y="96.8" width="4.4" height="4.4" fill="#e8141c"/>
<rect x="177.72" y="96.87" width="4.4" height="4.4" fill="#e8141c"/>
<rect x="180.17" y="96.93" width="4.4" height="4.4" fill="#e8141c"/>
<rect x="182.62" y="97" width="4.4" height="4.4" fill="#e8141c"/>
<rect x="185.07" y="96.76" width="4.4" height="4.4" fill="#e8141c"/>
<rect x="187.52" y="96.52" width="4.4" height="4.4" fill="#e8141c"/>
<rect x="189.98" y="96.28" width="4.4" height="4.4" fill="#e8141c"/>
<rect x="192.43" y="96.04" width="4.4" height="4.4" fill="#e8141c"/>
<rect x="194.88" y="95.8" width="4.4" height="4.4" fill="#e8141c"/>
<rect x="197.33" y="95.91" width="4.4" height="4.4" fill="#e8141c"/>
<rect x="199.78" y="96.03" width="4.4" height="4.4" fill="#e8141c"/>
<rect x="202.24" y="96.14" width="4.4" height="4.4" fill="#e8141c"/>
<rect x="204.69" y="96.26" width="4.4" height="4.4" fill="#e8141c"/>
<rect x="207.14" y="96.37" width="4.4" height="4.4" fill="#e8141c"/>
<rect x="209.59" y="96.49" width="4.4" height="4.4" fill="#e8141c"/>
<rect x="212.04" y="96.6" width="4.4" height="4.4" fill="#e8141c"/>
<rect x="214.5" y="96.47" width="4.4" height="4.4" fill="#e8141c"/>
<rect x="216.95" y="96.35" width="4.4" height="4.4" fill="#e8141c"/>
<rect x="219.4" y="96.22" width="4.4" height="4.4" fill="#e8141c"/>
<rect x="221.85" y="96.1" width="4.4" height="4.4" fill="#e8141c"/>
<rect x="224.3" y="95.97" width="4.4" height="4.4" fill="#e8141c"/>
<rect x="226.76" y="95.85" width="4.4" height="4.4" fill="#e8141c"/>
<rect x="229.21" y="95.72" width="4.4" height="4.4" fill="#e8141c"/>
<rect x="231.66" y="95.6" width="4.4" height="4.4" fill="#e8141c"/>
<rect x="234.11" y="95.5" width="4.4" height="4.4" fill="#e8141c"/>
<rect x="236.56" y="95.4" width="4.4" height="4.4" fill="#e8141c"/>
<rect x="239.02" y="95.3" width="4.4" height="4.4" fill="#e8141c"/>
<rect x="241.47" y="94.04" width="4.4" height="4.4" fill="#e8141c"/>
<rect x="243.92" y="93.9" width="4.4" height="4.4" fill="#e8141c"/>
<rect x="246.37" y="93.76" width="4.4" height="4.4" fill="#e8141c"/>
<rect x="248.82" y="93.62" width="4.4" height="4.4" fill="#e8141c"/>
<rect x="251.28" y="93.48" width="4.4" height="4.4" fill="#e8141c"/>
<rect x="253.73" y="93.34" width="4.4" height="4.4" fill="#e8141c"/>
<rect x="256.18" y="93.2" width="4.4" height="4.4" fill="#e8141c"/>
<rect x="258.63" y="93.03" width="4.4" height="4.4" fill="#e8141c"/>
<rect x="261.08" y="92.85" width="4.4" height="4.4" fill="#e8141c"/>
<rect x="263.54" y="92.67" width="4.4" height="4.4" fill="#e8141c"/>
<rect x="265.99" y="92.5" width="4.4" height="4.4" fill="#e8141c"/>
<rect x="268.44" y="92.33" width="4.4" height="4.4" fill="#e8141c"/>
<rect x="270.89" y="92.15" width="4.4" height="4.4" fill="#e8141c"/>
<rect x="273.34" y="91.97" width="4.4" height="4.4" fill="#e8141c"/>
<rect x="275.8" y="91.8" width="4.4" height="4.4" fill="#e8141c"/>
<rect x="278.25" y="91.35" width="4.4" height="4.4" fill="#e8141c"/>
<rect x="280.7" y="90.9" width="4.4" height="4.4" fill="#e8141c"/>
<rect x="283.15" y="90.45" width="4.4" height="4.4" fill="#e8141c"/>
<rect x="285.6" y="90" width="4.4" height="4.4" fill="#e8141c"/>
<rect x="288.06" y="89.6" width="4.4" height="4.4" fill="#e8141c"/>
<rect x="40.4" y="88.2" width="4.4" height="4.4" fill="#e8141c"/>
<rect x="42.86" y="88.2" width="4.4" height="4.4" fill="#e8141c"/>
<rect x="37.95" y="86" width="4.4" height="4.4" fill="#000"/>
<rect x="40.4" y="85" width="4.4" height="4.4" fill="#000"/>
<rect x="42.86" y="85" width="4.4" height="4.4" fill="#000"/>
<text font-family='"Liberation Sans", sans-serif' font-size="6" fill="#000" stroke="#000" stroke-width="0.1" x="38.2" y="79.5">C/20</text>
<text font-family='"Liberation Sans", sans-serif' font-size="6" fill="#000" stroke="#000" stroke-width="0.1" x="49.8" y="88">C/10</text>
<path d="M56.4,117.8 L56.4,125.4 L42.6,125.4" stroke="#000" stroke-width="0.8" fill="none"/>
<path d="M42.6,125.4 L47.8,123.5 L47.8,127.3Z" fill="#000"/>
<path d="M279,48 L279,54.4 L292.5,54.4" stroke="#000" stroke-width="0.8" fill="none"/>
<path d="M292.5,54.4 L287.3,52.5 L287.3,56.3Z" fill="#000"/>
<rect x="185.4" y="189.5" width="98" height="18" fill="#fff" stroke="#444" stroke-width="0.8"/>
<rect x="191.95" y="191.95" width="4.3" height="4.3" fill="#000"/>
<rect x="191.95" y="200.95" width="4.3" height="4.3" fill="#cc1818"/>
<rect x="209.4" y="192.3" width="3.5999999999999996" height="3.5999999999999996" fill="none" stroke="#333" stroke-width="0.7"/>
<rect x="209.4" y="201.3" width="3.5999999999999996" height="3.5999999999999996" fill="none" stroke="#e8141c" stroke-width="0.7"/>
<g font-family='"Liberation Sans", sans-serif' font-size="6.9" fill="#111" stroke="#111" stroke-width="0.12">
<text x="220.5" y="196.5">1 M LiFSI-PMpipFSI</text>
<text x="220.5" y="205.5">5 M LiFSI-PMpipFSI</text>
</g>
<g stroke="#000" stroke-width="1.6" fill="none">
<path d="M403.6,4.8H662.4"/>
<path d="M403.6,4.8V213.6H662.4"/>
<path d="M399.6,213.6H403.6"/>
<path d="M401.6,203.16H403.6"/>
<path d="M399.6,192.72H403.6"/>
<path d="M401.6,182.28H403.6"/>
<path d="M399.6,171.84H403.6"/>
<path d="M401.6,161.4H403.6"/>
<path d="M399.6,150.96H403.6"/>
<path d="M401.6,140.52H403.6"/>
<path d="M399.6,130.08H403.6"/>
<path d="M401.6,119.64H403.6"/>
<path d="M399.6,109.2H403.6"/>
<path d="M401.6,98.76H403.6"/>
<path d="M399.6,88.32H403.6"/>
<path d="M401.6,77.88H403.6"/>
<path d="M399.6,67.44H403.6"/>
<path d="M401.6,57H403.6"/>
<path d="M399.6,46.56H403.6"/>
<path d="M401.6,36.12H403.6"/>
<path d="M399.6,25.68H403.6"/>
<path d="M401.6,15.24H403.6"/>
<path d="M399.6,4.8H403.6"/>
<path d="M403.6,213.6V217.6"/>
<path d="M427.8,213.6V215.6"/>
<path d="M427.8,4.8V6.8"/>
<path d="M452,213.6V217.6"/>
<path d="M452,4.8V8.3"/>
<path d="M476.2,213.6V215.6"/>
<path d="M476.2,4.8V6.8"/>
<path d="M500.4,213.6V217.6"/>
<path d="M500.4,4.8V8.3"/>
<path d="M524.6,213.6V215.6"/>
<path d="M524.6,4.8V6.8"/>
<path d="M548.8,213.6V217.6"/>
<path d="M548.8,4.8V8.3"/>
<path d="M573,213.6V215.6"/>
<path d="M573,4.8V6.8"/>
<path d="M597.2,213.6V217.6"/>
<path d="M597.2,4.8V8.3"/>
<path d="M621.4,213.6V215.6"/>
<path d="M621.4,4.8V6.8"/>
<path d="M645.6,213.6V217.6"/>
<path d="M645.6,4.8V8.3"/>
</g>
<g stroke="#d41e2a" stroke-width="1.6" fill="none">
<path d="M662.4,4.1V214.3"/>
<path d="M662.4,213.6H666.4"/>
<path d="M662.4,194.6H664.4"/>
<path d="M662.4,175.6H666.4"/>
<path d="M662.4,156.6H664.4"/>
<path d="M662.4,137.6H666.4"/>
<path d="M662.4,118.6H664.4"/>
<path d="M662.4,99.6H666.4"/>
<path d="M662.4,80.6H664.4"/>
<path d="M662.4,61.6H666.4"/>
<path d="M662.4,42.6H664.4"/>
<path d="M662.4,23.6H666.4"/>
</g>
<g font-family='"Liberation Sans", sans-serif' font-size="8.5" fill="#222" stroke="#222" stroke-width="0.22" text-anchor="end">
<text x="397.1" y="216.7">0</text>
<text x="397.1" y="195.82">25</text>
<text x="397.1" y="174.94">50</text>
<text x="397.1" y="154.06">75</text>
<text x="397.1" y="133.18">100</text>
<text x="397.1" y="112.3">125</text>
<text x="397.1" y="91.42">150</text>
<text x="397.1" y="70.54">175</text>
<text x="397.1" y="49.66">200</text>
<text x="397.1" y="28.78">225</text>
<text x="397.1" y="7.9">250</text>
</g>
<g font-family='"Liberation Sans", sans-serif' font-size="8.5" fill="#222" stroke="#222" stroke-width="0.22" text-anchor="middle">
<text x="403.6" y="227.3">0</text>
<text x="452" y="227.3">20</text>
<text x="500.4" y="227.3">40</text>
<text x="548.8" y="227.3">60</text>
<text x="597.2" y="227.3">80</text>
<text x="645.6" y="227.3">100</text>
</g>
<g font-family='"Liberation Sans", sans-serif' font-size="8.5" fill="#d23c46" stroke="#d23c46" stroke-width="0.15" text-anchor="start">
<text x="669.4" y="216.7">0</text>
<text x="669.4" y="178.7">20</text>
<text x="669.4" y="140.7">40</text>
<text x="669.4" y="102.7">60</text>
<text x="669.4" y="64.7">80</text>
<text x="669.4" y="26.7">100</text>
</g>
<text font-family='"Liberation Sans", sans-serif' font-weight="bold" font-size="10.85" fill="#000" stroke="#000" stroke-width="0.15" text-anchor="middle" transform="translate(376,108) rotate(-90)">Specific. Dis. Cap. (mAh/g)</text>
<text font-family='"Liberation Sans", sans-serif' font-weight="bold" font-size="10.87" fill="#d41e2a" stroke="#d41e2a" stroke-width="0.15" text-anchor="middle" transform="translate(697,107) rotate(-90)">Coulombic efficiency (%)</text>
<text font-family='"Liberation Sans", sans-serif' font-weight="bold" font-size="10.7" fill="#000" text-anchor="middle" x="533" y="245.3" stroke="#000" stroke-width="0.15">Cycle Number</text>
<text font-family='"Liberation Sans", sans-serif' font-size="12.8" fill="#222" x="415.4" y="199.3">(b)</text>
<rect x="404.35" y="38.32" width="3.35" height="3.35" fill="none" stroke="#2a2a2a" stroke-width="0.85"/>
<rect x="411.61" y="42.32" width="3.35" height="3.35" fill="none" stroke="#2a2a2a" stroke-width="0.85"/>
<rect x="418.87" y="27.72" width="3.35" height="3.35" fill="none" stroke="#2a2a2a" stroke-width="0.85"/>
<rect x="430.97" y="36.92" width="3.35" height="3.35" fill="none" stroke="#2a2a2a" stroke-width="0.85"/>
<rect x="433.38" y="48.72" width="3.35" height="3.35" fill="none" stroke="#2a2a2a" stroke-width="0.85"/>
<rect x="435.81" y="29.93" width="3.35" height="3.35" fill="none" stroke="#2a2a2a" stroke-width="0.85"/>
<rect x="450.32" y="37.92" width="3.35" height="3.35" fill="none" stroke="#2a2a2a" stroke-width="0.85"/>
<rect x="452.75" y="53.92" width="3.35" height="3.35" fill="none" stroke="#2a2a2a" stroke-width="0.85"/>
<rect x="460" y="41.72" width="3.35" height="3.35" fill="none" stroke="#2a2a2a" stroke-width="0.85"/>
<rect x="438.23" y="24.32" width="3.35" height="3.35" fill="none" stroke="#2a2a2a" stroke-width="0.85"/>
<rect x="447.91" y="24.32" width="3.35" height="3.35" fill="none" stroke="#2a2a2a" stroke-width="0.85"/>
<rect x="462.43" y="24.93" width="3.35" height="3.35" fill="none" stroke="#2a2a2a" stroke-width="0.85"/>
<rect x="474.53" y="27.32" width="3.35" height="3.35" fill="none" stroke="#2a2a2a" stroke-width="0.85"/>
<rect x="476.94" y="28.72" width="3.35" height="3.35" fill="none" stroke="#2a2a2a" stroke-width="0.85"/>
<rect x="486.62" y="28.72" width="3.35" height="3.35" fill="none" stroke="#2a2a2a" stroke-width="0.85"/>
<rect x="491.46" y="26.72" width="3.35" height="3.35" fill="none" stroke="#2a2a2a" stroke-width="0.85"/>
<rect x="496.31" y="28.32" width="3.35" height="3.35" fill="none" stroke="#2a2a2a" stroke-width="0.85"/>
<rect x="498.73" y="26.72" width="3.35" height="3.35" fill="none" stroke="#2a2a2a" stroke-width="0.85"/>
<rect x="518.08" y="28.72" width="3.35" height="3.35" fill="none" stroke="#2a2a2a" stroke-width="0.85"/>
<rect x="520.5" y="25.93" width="3.35" height="3.35" fill="none" stroke="#2a2a2a" stroke-width="0.85"/>
<rect x="469.69" y="43.92" width="3.35" height="3.35" fill="none" stroke="#2a2a2a" stroke-width="0.85"/>
<rect x="501.15" y="43.92" width="3.35" height="3.35" fill="none" stroke="#2a2a2a" stroke-width="0.85"/>
<rect x="489.05" y="55.52" width="3.35" height="3.35" fill="none" stroke="#2a2a2a" stroke-width="0.85"/>
<rect x="464.85" y="101.33" width="3.35" height="3.35" fill="none" stroke="#2a2a2a" stroke-width="0.85"/>
<rect x="530.18" y="24.72" width="3.35" height="3.35" fill="none" stroke="#2a2a2a" stroke-width="0.85"/>
<rect x="539.86" y="27.93" width="3.35" height="3.35" fill="none" stroke="#2a2a2a" stroke-width="0.85"/>
<rect x="544.7" y="28.72" width="3.35" height="3.35" fill="none" stroke="#2a2a2a" stroke-width="0.85"/>
<rect x="547.12" y="29.93" width="3.35" height="3.35" fill="none" stroke="#2a2a2a" stroke-width="0.85"/>
<rect x="551.96" y="23.32" width="3.35" height="3.35" fill="none" stroke="#2a2a2a" stroke-width="0.85"/>
<rect x="576.16" y="27.32" width="3.35" height="3.35" fill="none" stroke="#2a2a2a" stroke-width="0.85"/>
<rect x="581" y="39.32" width="3.35" height="3.35" fill="none" stroke="#2a2a2a" stroke-width="0.85"/>
<rect x="571.32" y="50.32" width="3.35" height="3.35" fill="none" stroke="#2a2a2a" stroke-width="0.85"/>
<rect x="583.42" y="23.93" width="3.35" height="3.35" fill="none" stroke="#2a2a2a" stroke-width="0.85"/>
<rect x="622.14" y="28.32" width="3.35" height="3.35" fill="none" stroke="#2a2a2a" stroke-width="0.85"/>
<rect x="639.08" y="32.72" width="3.35" height="3.35" fill="none" stroke="#2a2a2a" stroke-width="0.85"/>
<rect x="653.6" y="5.92" width="3.35" height="3.35" fill="none" stroke="#2a2a2a" stroke-width="0.85"/>
<rect x="457.58" y="65.83" width="3.35" height="3.35" fill="none" stroke="#2a2a2a" stroke-width="0.85"/>
<rect x="406.92" y="22.6" width="3.05" height="3.05" fill="none" stroke="#dc4a4a" stroke-width="0.75"/>
<rect x="409.34" y="22.91" width="3.05" height="3.05" fill="none" stroke="#dc4a4a" stroke-width="0.75"/>
<rect x="411.76" y="22.85" width="3.05" height="3.05" fill="none" stroke="#dc4a4a" stroke-width="0.75"/>
<rect x="414.18" y="22.53" width="3.05" height="3.05" fill="none" stroke="#dc4a4a" stroke-width="0.75"/>
<rect x="416.6" y="22.65" width="3.05" height="3.05" fill="none" stroke="#dc4a4a" stroke-width="0.75"/>
<rect x="419.02" y="22.45" width="3.05" height="3.05" fill="none" stroke="#dc4a4a" stroke-width="0.75"/>
<rect x="421.44" y="22.86" width="3.05" height="3.05" fill="none" stroke="#dc4a4a" stroke-width="0.75"/>
<rect x="423.86" y="22.77" width="3.05" height="3.05" fill="none" stroke="#dc4a4a" stroke-width="0.75"/>
<rect x="426.28" y="22.91" width="3.05" height="3.05" fill="none" stroke="#dc4a4a" stroke-width="0.75"/>
<rect x="428.7" y="22.85" width="3.05" height="3.05" fill="none" stroke="#dc4a4a" stroke-width="0.75"/>
<rect x="431.12" y="22.78" width="3.05" height="3.05" fill="none" stroke="#dc4a4a" stroke-width="0.75"/>
<rect x="433.54" y="22.82" width="3.05" height="3.05" fill="none" stroke="#dc4a4a" stroke-width="0.75"/>
<rect x="435.96" y="22.71" width="3.05" height="3.05" fill="none" stroke="#dc4a4a" stroke-width="0.75"/>
<rect x="438.38" y="22.44" width="3.05" height="3.05" fill="none" stroke="#dc4a4a" stroke-width="0.75"/>
<rect x="440.8" y="22.73" width="3.05" height="3.05" fill="none" stroke="#dc4a4a" stroke-width="0.75"/>
<rect x="443.22" y="22.38" width="3.05" height="3.05" fill="none" stroke="#dc4a4a" stroke-width="0.75"/>
<rect x="445.64" y="22.46" width="3.05" height="3.05" fill="none" stroke="#dc4a4a" stroke-width="0.75"/>
<rect x="448.06" y="22.84" width="3.05" height="3.05" fill="none" stroke="#dc4a4a" stroke-width="0.75"/>
<rect x="450.48" y="22.4" width="3.05" height="3.05" fill="none" stroke="#dc4a4a" stroke-width="0.75"/>
<rect x="452.9" y="22.43" width="3.05" height="3.05" fill="none" stroke="#dc4a4a" stroke-width="0.75"/>
<rect x="455.32" y="22.43" width="3.05" height="3.05" fill="none" stroke="#dc4a4a" stroke-width="0.75"/>
<rect x="457.74" y="22.9" width="3.05" height="3.05" fill="none" stroke="#dc4a4a" stroke-width="0.75"/>
<rect x="460.16" y="22.48" width="3.05" height="3.05" fill="none" stroke="#dc4a4a" stroke-width="0.75"/>
<rect x="462.58" y="22.39" width="3.05" height="3.05" fill="none" stroke="#dc4a4a" stroke-width="0.75"/>
<rect x="465" y="22.88" width="3.05" height="3.05" fill="none" stroke="#dc4a4a" stroke-width="0.75"/>
<rect x="467.42" y="22.45" width="3.05" height="3.05" fill="none" stroke="#dc4a4a" stroke-width="0.75"/>
<rect x="469.84" y="22.88" width="3.05" height="3.05" fill="none" stroke="#dc4a4a" stroke-width="0.75"/>
<rect x="472.26" y="22.78" width="3.05" height="3.05" fill="none" stroke="#dc4a4a" stroke-width="0.75"/>
<rect x="474.68" y="22.88" width="3.05" height="3.05" fill="none" stroke="#dc4a4a" stroke-width="0.75"/>
<rect x="477.1" y="22.95" width="3.05" height="3.05" fill="none" stroke="#dc4a4a" stroke-width="0.75"/>
<rect x="479.52" y="22.72" width="3.05" height="3.05" fill="none" stroke="#dc4a4a" stroke-width="0.75"/>
<rect x="481.94" y="22.85" width="3.05" height="3.05" fill="none" stroke="#dc4a4a" stroke-width="0.75"/>
<rect x="484.36" y="22.4" width="3.05" height="3.05" fill="none" stroke="#dc4a4a" stroke-width="0.75"/>
<rect x="486.78" y="22.84" width="3.05" height="3.05" fill="none" stroke="#dc4a4a" stroke-width="0.75"/>
<rect x="489.2" y="22.68" width="3.05" height="3.05" fill="none" stroke="#dc4a4a" stroke-width="0.75"/>
<rect x="491.62" y="22.8" width="3.05" height="3.05" fill="none" stroke="#dc4a4a" stroke-width="0.75"/>
<rect x="494.04" y="22.44" width="3.05" height="3.05" fill="none" stroke="#dc4a4a" stroke-width="0.75"/>
<rect x="496.46" y="22.82" width="3.05" height="3.05" fill="none" stroke="#dc4a4a" stroke-width="0.75"/>
<rect x="498.88" y="22.94" width="3.05" height="3.05" fill="none" stroke="#dc4a4a" stroke-width="0.75"/>
<rect x="501.3" y="22.41" width="3.05" height="3.05" fill="none" stroke="#dc4a4a" stroke-width="0.75"/>
<rect x="503.72" y="22.57" width="3.05" height="3.05" fill="none" stroke="#dc4a4a" stroke-width="0.75"/>
<rect x="506.14" y="22.71" width="3.05" height="3.05" fill="none" stroke="#dc4a4a" stroke-width="0.75"/>
<rect x="508.56" y="22.87" width="3.05" height="3.05" fill="none" stroke="#dc4a4a" stroke-width="0.75"/>
<rect x="510.98" y="22.52" width="3.05" height="3.05" fill="none" stroke="#dc4a4a" stroke-width="0.75"/>
<rect x="513.4" y="22.48" width="3.05" height="3.05" fill="none" stroke="#dc4a4a" stroke-width="0.75"/>
<rect x="515.82" y="22.52" width="3.05" height="3.05" fill="none" stroke="#dc4a4a" stroke-width="0.75"/>
<rect x="518.24" y="22.74" width="3.05" height="3.05" fill="none" stroke="#dc4a4a" stroke-width="0.75"/>
<rect x="520.66" y="22.83" width="3.05" height="3.05" fill="none" stroke="#dc4a4a" stroke-width="0.75"/>
<rect x="523.08" y="22.61" width="3.05" height="3.05" fill="none" stroke="#dc4a4a" stroke-width="0.75"/>
<rect x="525.5" y="22.6" width="3.05" height="3.05" fill="none" stroke="#dc4a4a" stroke-width="0.75"/>
<rect x="527.92" y="22.61" width="3.05" height="3.05" fill="none" stroke="#dc4a4a" stroke-width="0.75"/>
<rect x="530.34" y="22.59" width="3.05" height="3.05" fill="none" stroke="#dc4a4a" stroke-width="0.75"/>
<rect x="532.75" y="22.63" width="3.05" height="3.05" fill="none" stroke="#dc4a4a" stroke-width="0.75"/>
<rect x="535.18" y="22.42" width="3.05" height="3.05" fill="none" stroke="#dc4a4a" stroke-width="0.75"/>
<rect x="537.6" y="22.68" width="3.05" height="3.05" fill="none" stroke="#dc4a4a" stroke-width="0.75"/>
<rect x="540.01" y="22.96" width="3.05" height="3.05" fill="none" stroke="#dc4a4a" stroke-width="0.75"/>
<rect x="542.44" y="22.62" width="3.05" height="3.05" fill="none" stroke="#dc4a4a" stroke-width="0.75"/>
<rect x="544.86" y="22.82" width="3.05" height="3.05" fill="none" stroke="#dc4a4a" stroke-width="0.75"/>
<rect x="547.27" y="22.47" width="3.05" height="3.05" fill="none" stroke="#dc4a4a" stroke-width="0.75"/>
<rect x="549.7" y="22.79" width="3.05" height="3.05" fill="none" stroke="#dc4a4a" stroke-width="0.75"/>
<rect x="552.12" y="22.83" width="3.05" height="3.05" fill="none" stroke="#dc4a4a" stroke-width="0.75"/>
<rect x="554.54" y="22.78" width="3.05" height="3.05" fill="none" stroke="#dc4a4a" stroke-width="0.75"/>
<rect x="556.96" y="22.69" width="3.05" height="3.05" fill="none" stroke="#dc4a4a" stroke-width="0.75"/>
<rect x="559.38" y="22.67" width="3.05" height="3.05" fill="none" stroke="#dc4a4a" stroke-width="0.75"/>
<rect x="561.8" y="22.76" width="3.05" height="3.05" fill="none" stroke="#dc4a4a" stroke-width="0.75"/>
<rect x="564.22" y="22.91" width="3.05" height="3.05" fill="none" stroke="#dc4a4a" stroke-width="0.75"/>
<rect x="566.64" y="22.46" width="3.05" height="3.05" fill="none" stroke="#dc4a4a" stroke-width="0.75"/>
<rect x="569.06" y="22.43" width="3.05" height="3.05" fill="none" stroke="#dc4a4a" stroke-width="0.75"/>
<rect x="571.48" y="22.82" width="3.05" height="3.05" fill="none" stroke="#dc4a4a" stroke-width="0.75"/>
<rect x="573.9" y="22.92" width="3.05" height="3.05" fill="none" stroke="#dc4a4a" stroke-width="0.75"/>
<rect x="576.32" y="22.69" width="3.05" height="3.05" fill="none" stroke="#dc4a4a" stroke-width="0.75"/>
<rect x="578.74" y="22.64" width="3.05" height="3.05" fill="none" stroke="#dc4a4a" stroke-width="0.75"/>
<rect x="581.16" y="22.81" width="3.05" height="3.05" fill="none" stroke="#dc4a4a" stroke-width="0.75"/>
<rect x="583.58" y="22.49" width="3.05" height="3.05" fill="none" stroke="#dc4a4a" stroke-width="0.75"/>
<rect x="586" y="22.54" width="3.05" height="3.05" fill="none" stroke="#dc4a4a" stroke-width="0.75"/>
<rect x="588.42" y="22.49" width="3.05" height="3.05" fill="none" stroke="#dc4a4a" stroke-width="0.75"/>
<rect x="590.84" y="22.73" width="3.05" height="3.05" fill="none" stroke="#dc4a4a" stroke-width="0.75"/>
<rect x="593.25" y="22.56" width="3.05" height="3.05" fill="none" stroke="#dc4a4a" stroke-width="0.75"/>
<rect x="595.68" y="22.51" width="3.05" height="3.05" fill="none" stroke="#dc4a4a" stroke-width="0.75"/>
<rect x="598.1" y="22.79" width="3.05" height="3.05" fill="none" stroke="#dc4a4a" stroke-width="0.75"/>
<rect x="600.51" y="22.95" width="3.05" height="3.05" fill="none" stroke="#dc4a4a" stroke-width="0.75"/>
<rect x="602.94" y="22.55" width="3.05" height="3.05" fill="none" stroke="#dc4a4a" stroke-width="0.75"/>
<rect x="605.36" y="22.8" width="3.05" height="3.05" fill="none" stroke="#dc4a4a" stroke-width="0.75"/>
<rect x="607.77" y="22.62" width="3.05" height="3.05" fill="none" stroke="#dc4a4a" stroke-width="0.75"/>
<rect x="610.2" y="22.89" width="3.05" height="3.05" fill="none" stroke="#dc4a4a" stroke-width="0.75"/>
<rect x="612.62" y="22.73" width="3.05" height="3.05" fill="none" stroke="#dc4a4a" stroke-width="0.75"/>
<rect x="615.03" y="22.54" width="3.05" height="3.05" fill="none" stroke="#dc4a4a" stroke-width="0.75"/>
<rect x="617.46" y="22.51" width="3.05" height="3.05" fill="none" stroke="#dc4a4a" stroke-width="0.75"/>
<rect x="619.88" y="22.39" width="3.05" height="3.05" fill="none" stroke="#dc4a4a" stroke-width="0.75"/>
<rect x="622.3" y="22.66" width="3.05" height="3.05" fill="none" stroke="#dc4a4a" stroke-width="0.75"/>
<rect x="624.72" y="22.6" width="3.05" height="3.05" fill="none" stroke="#dc4a4a" stroke-width="0.75"/>
<rect x="627.14" y="22.48" width="3.05" height="3.05" fill="none" stroke="#dc4a4a" stroke-width="0.75"/>
<rect x="629.56" y="22.59" width="3.05" height="3.05" fill="none" stroke="#dc4a4a" stroke-width="0.75"/>
<rect x="631.98" y="22.57" width="3.05" height="3.05" fill="none" stroke="#dc4a4a" stroke-width="0.75"/>
<rect x="634.4" y="22.84" width="3.05" height="3.05" fill="none" stroke="#dc4a4a" stroke-width="0.75"/>
<rect x="636.82" y="22.46" width="3.05" height="3.05" fill="none" stroke="#dc4a4a" stroke-width="0.75"/>
<rect x="639.24" y="22.97" width="3.05" height="3.05" fill="none" stroke="#dc4a4a" stroke-width="0.75"/>
<rect x="641.66" y="22.66" width="3.05" height="3.05" fill="none" stroke="#dc4a4a" stroke-width="0.75"/>
<rect x="644.08" y="22.73" width="3.05" height="3.05" fill="none" stroke="#dc4a4a" stroke-width="0.75"/>
<rect x="646.5" y="22.66" width="3.05" height="3.05" fill="none" stroke="#dc4a4a" stroke-width="0.75"/>
<rect x="648.92" y="22.88" width="3.05" height="3.05" fill="none" stroke="#dc4a4a" stroke-width="0.75"/>
<rect x="651.34" y="22.87" width="3.05" height="3.05" fill="none" stroke="#dc4a4a" stroke-width="0.75"/>
<rect x="653.75" y="22.71" width="3.05" height="3.05" fill="none" stroke="#dc4a4a" stroke-width="0.75"/>
<rect x="656.18" y="22.66" width="3.05" height="3.05" fill="none" stroke="#dc4a4a" stroke-width="0.75"/>
<rect x="404.5" y="32.08" width="3.05" height="3.05" fill="none" stroke="#dc4a4a" stroke-width="0.75"/>
<rect x="411.76" y="29.48" width="3.05" height="3.05" fill="none" stroke="#dc4a4a" stroke-width="0.75"/>
<rect x="653.75" y="14.87" width="3.05" height="3.05" fill="none" stroke="#dc4a4a" stroke-width="0.75"/>
<rect x="403.82" y="63.2" width="4.4" height="4.4" fill="#000"/>
<rect x="406.24" y="63.2" width="4.4" height="4.4" fill="#000"/>
<rect x="408.66" y="63.2" width="4.4" height="4.4" fill="#000"/>
<rect x="411.08" y="77.5" width="4.4" height="4.4" fill="#000"/>
<rect x="413.5" y="77.48" width="4.4" height="4.4" fill="#000"/>
<rect x="415.92" y="77.47" width="4.4" height="4.4" fill="#000"/>
<rect x="418.34" y="77.45" width="4.4" height="4.4" fill="#000"/>
<rect x="420.76" y="77.43" width="4.4" height="4.4" fill="#000"/>
<rect x="423.18" y="77.42" width="4.4" height="4.4" fill="#000"/>
<rect x="425.6" y="77.4" width="4.4" height="4.4" fill="#000"/>
<rect x="428.02" y="76.9" width="4.4" height="4.4" fill="#000"/>
<rect x="430.44" y="76.4" width="4.4" height="4.4" fill="#000"/>
<rect x="432.86" y="76.8" width="4.4" height="4.4" fill="#000"/>
<rect x="435.28" y="77.2" width="4.4" height="4.4" fill="#000"/>
<rect x="437.7" y="77.23" width="4.4" height="4.4" fill="#000"/>
<rect x="440.12" y="77.25" width="4.4" height="4.4" fill="#000"/>
<rect x="442.54" y="77.28" width="4.4" height="4.4" fill="#000"/>
<rect x="444.96" y="77.3" width="4.4" height="4.4" fill="#000"/>
<rect x="447.38" y="77.33" width="4.4" height="4.4" fill="#000"/>
<rect x="449.8" y="77.35" width="4.4" height="4.4" fill="#000"/>
<rect x="452.22" y="77.38" width="4.4" height="4.4" fill="#000"/>
<rect x="454.64" y="77.4" width="4.4" height="4.4" fill="#000"/>
<rect x="457.06" y="77.42" width="4.4" height="4.4" fill="#000"/>
<rect x="459.48" y="77.45" width="4.4" height="4.4" fill="#000"/>
<rect x="461.9" y="77.47" width="4.4" height="4.4" fill="#000"/>
<rect x="464.32" y="77.5" width="4.4" height="4.4" fill="#000"/>
<rect x="466.74" y="77.52" width="4.4" height="4.4" fill="#000"/>
<rect x="469.16" y="77.55" width="4.4" height="4.4" fill="#000"/>
<rect x="471.58" y="77.57" width="4.4" height="4.4" fill="#000"/>
<rect x="474" y="77.6" width="4.4" height="4.4" fill="#000"/>
<rect x="476.42" y="77.61" width="4.4" height="4.4" fill="#000"/>
<rect x="478.84" y="77.62" width="4.4" height="4.4" fill="#000"/>
<rect x="481.26" y="77.63" width="4.4" height="4.4" fill="#000"/>
<rect x="483.68" y="77.64" width="4.4" height="4.4" fill="#000"/>
<rect x="486.1" y="77.65" width="4.4" height="4.4" fill="#000"/>
<rect x="488.52" y="77.66" width="4.4" height="4.4" fill="#000"/>
<rect x="490.94" y="77.67" width="4.4" height="4.4" fill="#000"/>
<rect x="493.36" y="77.68" width="4.4" height="4.4" fill="#000"/>
<rect x="495.78" y="77.69" width="4.4" height="4.4" fill="#000"/>
<rect x="498.2" y="77.7" width="4.4" height="4.4" fill="#000"/>
<rect x="500.62" y="77.77" width="4.4" height="4.4" fill="#000"/>
<rect x="503.04" y="77.84" width="4.4" height="4.4" fill="#000"/>
<rect x="505.46" y="77.91" width="4.4" height="4.4" fill="#000"/>
<rect x="507.88" y="77.98" width="4.4" height="4.4" fill="#000"/>
<rect x="510.3" y="78.05" width="4.4" height="4.4" fill="#000"/>
<rect x="512.72" y="78.12" width="4.4" height="4.4" fill="#000"/>
<rect x="515.14" y="78.19" width="4.4" height="4.4" fill="#000"/>
<rect x="517.56" y="78.26" width="4.4" height="4.4" fill="#000"/>
<rect x="519.98" y="78.33" width="4.4" height="4.4" fill="#000"/>
<rect x="522.4" y="78.4" width="4.4" height="4.4" fill="#000"/>
<rect x="524.82" y="78.43" width="4.4" height="4.4" fill="#000"/>
<rect x="527.24" y="78.45" width="4.4" height="4.4" fill="#000"/>
<rect x="529.66" y="78.48" width="4.4" height="4.4" fill="#000"/>
<rect x="532.08" y="78.5" width="4.4" height="4.4" fill="#000"/>
<rect x="534.5" y="78.53" width="4.4" height="4.4" fill="#000"/>
<rect x="536.92" y="78.56" width="4.4" height="4.4" fill="#000"/>
<rect x="539.34" y="78.58" width="4.4" height="4.4" fill="#000"/>
<rect x="541.76" y="78.61" width="4.4" height="4.4" fill="#000"/>
<rect x="544.18" y="78.63" width="4.4" height="4.4" fill="#000"/>
<rect x="546.6" y="78.66" width="4.4" height="4.4" fill="#000"/>
<rect x="549.02" y="78.69" width="4.4" height="4.4" fill="#000"/>
<rect x="551.44" y="78.71" width="4.4" height="4.4" fill="#000"/>
<rect x="553.86" y="78.74" width="4.4" height="4.4" fill="#000"/>
<rect x="556.28" y="78.77" width="4.4" height="4.4" fill="#000"/>
<rect x="558.7" y="78.79" width="4.4" height="4.4" fill="#000"/>
<rect x="561.12" y="78.82" width="4.4" height="4.4" fill="#000"/>
<rect x="563.54" y="78.84" width="4.4" height="4.4" fill="#000"/>
<rect x="565.96" y="78.87" width="4.4" height="4.4" fill="#000"/>
<rect x="568.38" y="78.9" width="4.4" height="4.4" fill="#000"/>
<rect x="570.8" y="78.92" width="4.4" height="4.4" fill="#000"/>
<rect x="573.22" y="78.95" width="4.4" height="4.4" fill="#000"/>
<rect x="575.64" y="78.97" width="4.4" height="4.4" fill="#000"/>
<rect x="578.06" y="79" width="4.4" height="4.4" fill="#000"/>
<rect x="580.48" y="79.04" width="4.4" height="4.4" fill="#000"/>
<rect x="582.9" y="79.07" width="4.4" height="4.4" fill="#000"/>
<rect x="585.32" y="79.11" width="4.4" height="4.4" fill="#000"/>
<rect x="587.74" y="79.15" width="4.4" height="4.4" fill="#000"/>
<rect x="590.16" y="79.18" width="4.4" height="4.4" fill="#000"/>
<rect x="592.58" y="79.22" width="4.4" height="4.4" fill="#000"/>
<rect x="595" y="79.26" width="4.4" height="4.4" fill="#000"/>
<rect x="597.42" y="79.29" width="4.4" height="4.4" fill="#000"/>
<rect x="599.84" y="79.33" width="4.4" height="4.4" fill="#000"/>
<rect x="602.26" y="79.37" width="4.4" height="4.4" fill="#000"/>
<rect x="604.68" y="79.4" width="4.4" height="4.4" fill="#000"/>
<rect x="607.1" y="79.44" width="4.4" height="4.4" fill="#000"/>
<rect x="609.52" y="79.48" width="4.4" height="4.4" fill="#000"/>
<rect x="611.94" y="79.51" width="4.4" height="4.4" fill="#000"/>
<rect x="614.36" y="79.55" width="4.4" height="4.4" fill="#000"/>
<rect x="616.78" y="79.59" width="4.4" height="4.4" fill="#000"/>
<rect x="619.2" y="79.62" width="4.4" height="4.4" fill="#000"/>
<rect x="621.62" y="79.66" width="4.4" height="4.4" fill="#000"/>
<rect x="624.04" y="79.7" width="4.4" height="4.4" fill="#000"/>
<rect x="626.46" y="79.73" width="4.4" height="4.4" fill="#000"/>
<rect x="628.88" y="79.77" width="4.4" height="4.4" fill="#000"/>
<rect x="631.3" y="79.81" width="4.4" height="4.4" fill="#000"/>
<rect x="633.72" y="79.84" width="4.4" height="4.4" fill="#000"/>
<rect x="636.14" y="79.88" width="4.4" height="4.4" fill="#000"/>
<rect x="638.56" y="79.92" width="4.4" height="4.4" fill="#000"/>
<rect x="640.98" y="79.95" width="4.4" height="4.4" fill="#000"/>
<rect x="643.4" y="79.99" width="4.4" height="4.4" fill="#000"/>
<rect x="645.82" y="80.03" width="4.4" height="4.4" fill="#000"/>
<rect x="648.24" y="80.06" width="4.4" height="4.4" fill="#000"/>
<rect x="650.66" y="80.1" width="4.4" height="4.4" fill="#000"/>
<rect x="403.82" y="60" width="4.4" height="4.4" fill="#e8141c"/>
<rect x="406.24" y="60" width="4.4" height="4.4" fill="#e8141c"/>
<rect x="408.66" y="60" width="4.4" height="4.4" fill="#e8141c"/>
<rect x="411.08" y="69.2" width="4.4" height="4.4" fill="#e8141c"/>
<rect x="413.5" y="69.19" width="4.4" height="4.4" fill="#e8141c"/>
<rect x="415.92" y="69.18" width="4.4" height="4.4" fill="#e8141c"/>
<rect x="418.34" y="69.18" width="4.4" height="4.4" fill="#e8141c"/>
<rect x="420.76" y="69.17" width="4.4" height="4.4" fill="#e8141c"/>
<rect x="423.18" y="69.16" width="4.4" height="4.4" fill="#e8141c"/>
<rect x="425.6" y="69.15" width="4.4" height="4.4" fill="#e8141c"/>
<rect x="428.02" y="69.15" width="4.4" height="4.4" fill="#e8141c"/>
<rect x="430.44" y="69.14" width="4.4" height="4.4" fill="#e8141c"/>
<rect x="432.86" y="69.13" width="4.4" height="4.4" fill="#e8141c"/>
<rect x="435.28" y="69.12" width="4.4" height="4.4" fill="#e8141c"/>
<rect x="437.7" y="69.12" width="4.4" height="4.4" fill="#e8141c"/>
<rect x="440.12" y="69.11" width="4.4" height="4.4" fill="#e8141c"/>
<rect x="442.54" y="69.1" width="4.4" height="4.4" fill="#e8141c"/>
<rect x="444.96" y="69.09" width="4.4" height="4.4" fill="#e8141c"/>
<rect x="447.38" y="69.08" width="4.4" height="4.4" fill="#e8141c"/>
<rect x="449.8" y="69.08" width="4.4" height="4.4" fill="#e8141c"/>
<rect x="452.22" y="69.07" width="4.4" height="4.4" fill="#e8141c"/>
<rect x="454.64" y="69.06" width="4.4" height="4.4" fill="#e8141c"/>
<rect x="457.06" y="69.05" width="4.4" height="4.4" fill="#e8141c"/>
<rect x="459.48" y="69.05" width="4.4" height="4.4" fill="#e8141c"/>
<rect x="461.9" y="69.04" width="4.4" height="4.4" fill="#e8141c"/>
<rect x="464.32" y="69.03" width="4.4" height="4.4" fill="#e8141c"/>
<rect x="466.74" y="69.02" width="4.4" height="4.4" fill="#e8141c"/>
<rect x="469.16" y="69.02" width="4.4" height="4.4" fill="#e8141c"/>
<rect x="471.58" y="69.01" width="4.4" height="4.4" fill="#e8141c"/>
<rect x="474" y="69" width="4.4" height="4.4" fill="#e8141c"/>
<rect x="476.42" y="69.02" width="4.4" height="4.4" fill="#e8141c"/>
<rect x="478.84" y="69.04" width="4.4" height="4.4" fill="#e8141c"/>
<rect x="481.26" y="69.06" width="4.4" height="4.4" fill="#e8141c"/>
<rect x="483.68" y="69.08" width="4.4" height="4.4" fill="#e8141c"/>
<rect x="486.1" y="69.1" width="4.4" height="4.4" fill="#e8141c"/>
<rect x="488.52" y="69.12" width="4.4" height="4.4" fill="#e8141c"/>
<rect x="490.94" y="69.14" width="4.4" height="4.4" fill="#e8141c"/>
<rect x="493.36" y="69.16" width="4.4" height="4.4" fill="#e8141c"/>
<rect x="495.78" y="69.18" width="4.4" height="4.4" fill="#e8141c"/>
<rect x="498.2" y="69.2" width="4.4" height="4.4" fill="#e8141c"/>
<rect x="500.62" y="69.22" width="4.4" height="4.4" fill="#e8141c"/>
<rect x="503.04" y="69.24" width="4.4" height="4.4" fill="#e8141c"/>
<rect x="505.46" y="69.26" width="4.4" height="4.4" fill="#e8141c"/>
<rect x="507.88" y="69.28" width="4.4" height="4.4" fill="#e8141c"/>
<rect x="510.3" y="69.3" width="4.4" height="4.4" fill="#e8141c"/>
<rect x="512.72" y="69.32" width="4.4" height="4.4" fill="#e8141c"/>
<rect x="515.14" y="69.34" width="4.4" height="4.4" fill="#e8141c"/>
<rect x="517.56" y="69.36" width="4.4" height="4.4" fill="#e8141c"/>
<rect x="519.98" y="69.38" width="4.4" height="4.4" fill="#e8141c"/>
<rect x="522.4" y="69.4" width="4.4" height="4.4" fill="#e8141c"/>
<rect x="524.82" y="69.45" width="4.4" height="4.4" fill="#e8141c"/>
<rect x="527.24" y="69.5" width="4.4" height="4.4" fill="#e8141c"/>
<rect x="529.66" y="69.54" width="4.4" height="4.4" fill="#e8141c"/>
<rect x="532.08" y="69.59" width="4.4" height="4.4" fill="#e8141c"/>
<rect x="534.5" y="69.64" width="4.4" height="4.4" fill="#e8141c"/>
<rect x="536.92" y="69.69" width="4.4" height="4.4" fill="#e8141c"/>
<rect x="539.34" y="69.73" width="4.4" height="4.4" fill="#e8141c"/>
<rect x="541.76" y="69.78" width="4.4" height="4.4" fill="#e8141c"/>
<rect x="544.18" y="69.83" width="4.4" height="4.4" fill="#e8141c"/>
<rect x="546.6" y="69.88" width="4.4" height="4.4" fill="#e8141c"/>
<rect x="549.02" y="69.93" width="4.4" height="4.4" fill="#e8141c"/>
<rect x="551.44" y="69.97" width="4.4" height="4.4" fill="#e8141c"/>
<rect x="553.86" y="70.02" width="4.4" height="4.4" fill="#e8141c"/>
<rect x="556.28" y="70.07" width="4.4" height="4.4" fill="#e8141c"/>
<rect x="558.7" y="70.12" width="4.4" height="4.4" fill="#e8141c"/>
<rect x="561.12" y="70.17" width="4.4" height="4.4" fill="#e8141c"/>
<rect x="563.54" y="70.21" width="4.4" height="4.4" fill="#e8141c"/>
<rect x="565.96" y="70.26" width="4.4" height="4.4" fill="#e8141c"/>
<rect x="568.38" y="70.31" width="4.4" height="4.4" fill="#e8141c"/>
<rect x="570.8" y="70.36" width="4.4" height="4.4" fill="#e8141c"/>
<rect x="573.22" y="70.4" width="4.4" height="4.4" fill="#e8141c"/>
<rect x="575.64" y="70.45" width="4.4" height="4.4" fill="#e8141c"/>
<rect x="578.06" y="70.5" width="4.4" height="4.4" fill="#e8141c"/>
<rect x="580.48" y="70.54" width="4.4" height="4.4" fill="#e8141c"/>
<rect x="582.9" y="70.57" width="4.4" height="4.4" fill="#e8141c"/>
<rect x="585.32" y="70.61" width="4.4" height="4.4" fill="#e8141c"/>
<rect x="587.74" y="70.65" width="4.4" height="4.4" fill="#e8141c"/>
<rect x="590.16" y="70.68" width="4.4" height="4.4" fill="#e8141c"/>
<rect x="592.58" y="70.72" width="4.4" height="4.4" fill="#e8141c"/>
<rect x="595" y="70.76" width="4.4" height="4.4" fill="#e8141c"/>
<rect x="597.42" y="70.79" width="4.4" height="4.4" fill="#e8141c"/>
<rect x="599.84" y="70.83" width="4.4" height="4.4" fill="#e8141c"/>
<rect x="602.26" y="70.87" width="4.4" height="4.4" fill="#e8141c"/>
<rect x="604.68" y="70.9" width="4.4" height="4.4" fill="#e8141c"/>
<rect x="607.1" y="70.94" width="4.4" height="4.4" fill="#e8141c"/>
<rect x="609.52" y="70.98" width="4.4" height="4.4" fill="#e8141c"/>
<rect x="611.94" y="71.01" width="4.4" height="4.4" fill="#e8141c"/>
<rect x="614.36" y="71.05" width="4.4" height="4.4" fill="#e8141c"/>
<rect x="616.78" y="71.09" width="4.4" height="4.4" fill="#e8141c"/>
<rect x="619.2" y="71.12" width="4.4" height="4.4" fill="#e8141c"/>
<rect x="621.62" y="71.16" width="4.4" height="4.4" fill="#e8141c"/>
<rect x="624.04" y="71.2" width="4.4" height="4.4" fill="#e8141c"/>
<rect x="626.46" y="71.23" width="4.4" height="4.4" fill="#e8141c"/>
<rect x="628.88" y="71.27" width="4.4" height="4.4" fill="#e8141c"/>
<rect x="631.3" y="71.31" width="4.4" height="4.4" fill="#e8141c"/>
<rect x="633.72" y="71.34" width="4.4" height="4.4" fill="#e8141c"/>
<rect x="636.14" y="71.38" width="4.4" height="4.4" fill="#e8141c"/>
<rect x="638.56" y="71.42" width="4.4" height="4.4" fill="#e8141c"/>
<rect x="640.98" y="71.45" width="4.4" height="4.4" fill="#e8141c"/>
<rect x="643.4" y="71.49" width="4.4" height="4.4" fill="#e8141c"/>
<rect x="645.82" y="71.53" width="4.4" height="4.4" fill="#e8141c"/>
<rect x="648.24" y="71.56" width="4.4" height="4.4" fill="#e8141c"/>
<rect x="650.66" y="71.6" width="4.4" height="4.4" fill="#e8141c"/>
<rect x="653.08" y="62.4" width="4.4" height="4.4" fill="#e8141c"/>
<rect x="655.5" y="62.4" width="4.4" height="4.4" fill="#e8141c"/>
<rect x="657.92" y="62.4" width="4.4" height="4.4" fill="#e8141c"/>
<text font-family='"Liberation Sans", sans-serif' font-size="6" fill="#000" stroke="#000" stroke-width="0.1" x="405.4" y="56">C/20</text>
<text font-family='"Liberation Sans", sans-serif' font-size="6" fill="#000" stroke="#000" stroke-width="0.1" x="414.2" y="68">C/3</text>
<text font-family='"Liberation Sans", sans-serif' font-size="6" fill="#000" stroke="#000" stroke-width="0.1" x="649.2" y="59">C/20</text>
<path d="M419.6,88.2 L419.6,95.4 L406.3,95.4" stroke="#000" stroke-width="0.8" fill="none"/>
<path d="M406.3,95.4 L411.5,93.5 L411.5,97.3Z" fill="#000"/>
<path d="M640.4,38.5 L640.4,44.2 L655,44.2" stroke="#000" stroke-width="0.8" fill="none"/>
<path d="M655,44.2 L649.8,42.3 L649.8,46.1Z" fill="#000"/>
<rect x="560" y="188" width="98" height="18" fill="#fff" stroke="#444" stroke-width="0.8"/>
<rect x="566.55" y="190.45" width="4.3" height="4.3" fill="#000"/>
<rect x="566.55" y="199.45" width="4.3" height="4.3" fill="#cc1818"/>
<rect x="584" y="190.8" width="3.5999999999999996" height="3.5999999999999996" fill="none" stroke="#333" stroke-width="0.7"/>
<rect x="584" y="199.8" width="3.5999999999999996" height="3.5999999999999996" fill="none" stroke="#e8141c" stroke-width="0.7"/>
<g font-family='"Liberation Sans", sans-serif' font-size="6.9" fill="#111" stroke="#111" stroke-width="0.12">
<text x="595.1" y="195">1 M LiFSI-PMpipFSI</text>
<text x="595.1" y="204">5 M LiFSI-PMpipFSI</text>
</g>
</g></svg></body></html>
